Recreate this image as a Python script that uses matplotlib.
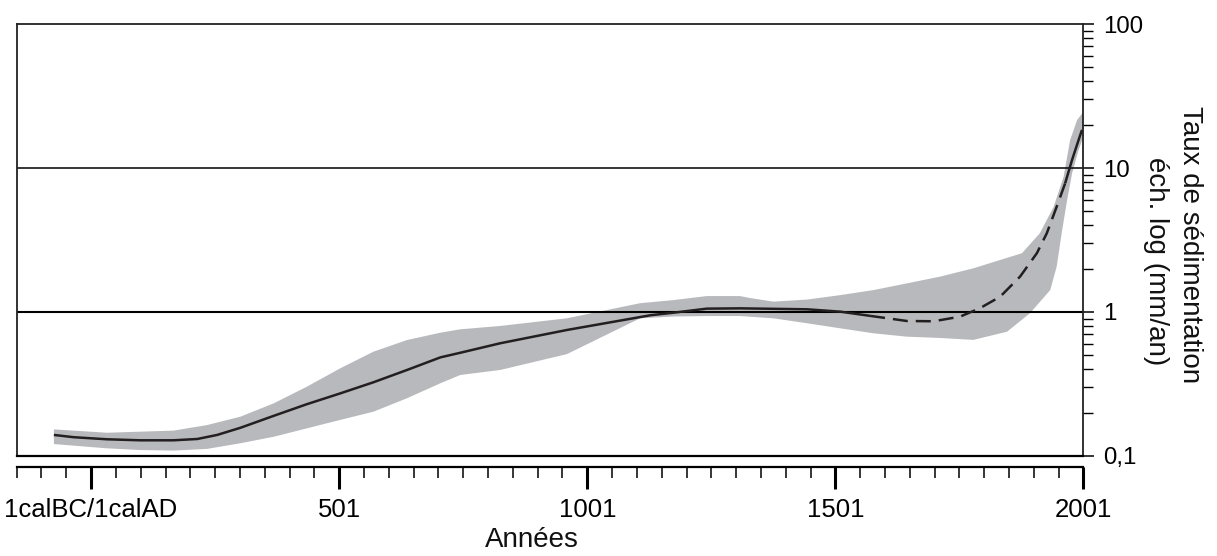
#!/usr/bin/env python3

import matplotlib
matplotlib.use('Agg')
import matplotlib.pyplot as plt
from matplotlib.ticker import FixedLocator, NullFormatter
import numpy as np

# envelope of the sedimentation rate: upper edge
upper_years = [-74, 33, 167, 235, 302, 369, 436, 503, 570, 638, 705, 745,
               826, 960, 1107, 1175, 1242, 1309, 1329, 1376, 1444, 1511,
               1578, 1645, 1712, 1779, 1877, 1913, 1941, 1961, 1974, 1988,
               2001]
upper_vals = [0.153, 0.145, 0.150, 0.164, 0.1875, 0.232, 0.303, 0.406, 0.530,
              0.639, 0.718, 0.758, 0.80, 0.904, 1.15, 1.21, 1.29, 1.29, 1.25,
              1.18, 1.22, 1.31, 1.42, 1.58, 1.76, 2.01, 2.56, 3.52, 5.39,
              8.71, 15.6, 21.5, 24.6]
# envelope: lower edge
lower_years = [-74, 33, 100, 167, 235, 302, 369, 436, 503, 570, 638, 705,
               745, 826, 960, 1107, 1175, 1242, 1309, 1376, 1444, 1511, 1578,
               1645, 1712, 1779, 1847, 1893, 1934, 1947, 1957, 1968, 1978,
               1991, 2001]
lower_vals = [0.121, 0.113, 0.110, 0.109, 0.112, 0.1226, 0.136, 0.1556, 0.178,
              0.203, 0.252, 0.320, 0.365, 0.396, 0.51, 0.903, 0.93, 0.937,
              0.937, 0.904, 0.835, 0.77, 0.711, 0.674, 0.66, 0.640, 0.730,
              0.980, 1.42, 2.07, 3.52, 5.99, 9.18, 13.3, 16.5]

# median, solid part
med_years = [-74, -34, 33, 100, 167, 215, 255, 302, 369, 436, 503, 570, 638,
             705, 745, 826, 960, 1128, 1175, 1242, 1309, 1444, 1511, 1571]
med_vals = [0.140, 0.135, 0.1306, 0.1285, 0.1285, 0.1312, 0.140, 0.157, 0.190,
            0.229, 0.272, 0.325, 0.396, 0.484, 0.521, 0.607, 0.75, 0.949,
            0.989, 1.055, 1.06, 1.044, 1.005, 0.94]
# median, dashed part
dash_years = [1571, 1645, 1699, 1752, 1792, 1833, 1873, 1907, 1927, 1947, 1964]
dash_vals = [0.94, 0.866, 0.862, 0.928, 1.061, 1.277, 1.758, 2.56, 3.52, 5.39,
             7.83]
# median, last solid part
end_years = [1964, 1978, 1991, 1998]
end_vals = [7.83, 11.4, 15.6, 18.4]

x_ticks = [1, 501, 1001, 1501, 2001]
x_labels = ['1calBC/1calAD', '501', '1001', '1501', '2001']
y_ticks = [0.1, 1, 10, 100]
y_labels = ['0,1', '1', '10', '100']

plt.rcParams['font.family'] = ['Liberation Sans', 'DejaVu Sans']
ink = '#231f20'

fig = plt.figure(figsize=(12.17, 5.56), dpi=100)
ax = fig.add_axes([0.0137, 0.1799, 0.8766, 0.7769])

ax.fill(np.concatenate([upper_years, lower_years[::-1]]),
        np.concatenate([upper_vals, lower_vals[::-1]]),
        color='#b8b9bc', lw=0, zorder=1)
ax.axhline(1, color='k', lw=1.5, zorder=2)
ax.axhline(10, color='k', lw=1.1, zorder=2)
ax.plot(med_years, med_vals, color=ink, lw=1.8, zorder=3,
        solid_capstyle='butt', solid_joinstyle='round')
ax.plot(dash_years, dash_vals, color=ink, lw=1.8, zorder=3,
        linestyle=(0, (6, 3.2)))
ax.plot(end_years, end_vals, color=ink, lw=1.8, zorder=3,
        solid_capstyle='butt', solid_joinstyle='round')

ax.set_yscale('log')
ax.set_ylim(0.1, 100)
ax.set_xlim(-149, 2001)

# y axis on the right
ax.yaxis.tick_right()
ax.yaxis.set_major_locator(FixedLocator(y_ticks))
ax.set_yticklabels(y_labels)
ax.yaxis.set_minor_locator(FixedLocator(
    [m * 10.0 ** e for e in range(-1, 2) for m in range(2, 10)]))
ax.yaxis.set_minor_formatter(NullFormatter())
ax.tick_params(axis='y', which='major', length=8, width=1.1, pad=6,
               labelsize=17.3, direction='out', color='k')
ax.tick_params(axis='y', which='minor', length=7.5, width=1.0,
               direction='out', color='k')

# x axis detached below the box
ax.spines['bottom'].set_position(('outward', 8))
ax.spines['bottom'].set_linewidth(1.6)
ax.axhline(0.1, color='k', lw=1.6, clip_on=False, zorder=4)
for s in ['top', 'left', 'right']:
    ax.spines[s].set_linewidth(1.3)
    ax.spines[s].set_color('#222222')

ax.set_xticks(x_ticks)
ax.set_xticklabels(x_labels)
ax.set_xticks(np.arange(-149, 2002, 50), minor=True)
ax.tick_params(axis='x', which='major', length=15.5, width=2.2, pad=6.5,
               labelsize=18.5, direction='out', color='k')
ax.tick_params(axis='x', which='minor', length=8, width=1.1,
               direction='out', color='k')

fig.text(532 / 1217, 1 - 540 / 556, 'Années', ha='center', va='center',
         fontsize=20, color='#111111')
fig.text(1190 / 1217, 1 - 245 / 556, 'Taux de sédimentation', rotation=270,
         ha='center', va='center', fontsize=20, color='#111111')
fig.text(1156 / 1217, 1 - 261 / 556, 'éch. log (mm/an)', rotation=270,
         ha='center', va='center', fontsize=20, color='#111111')

fig.savefig('out.png', dpi=100)
